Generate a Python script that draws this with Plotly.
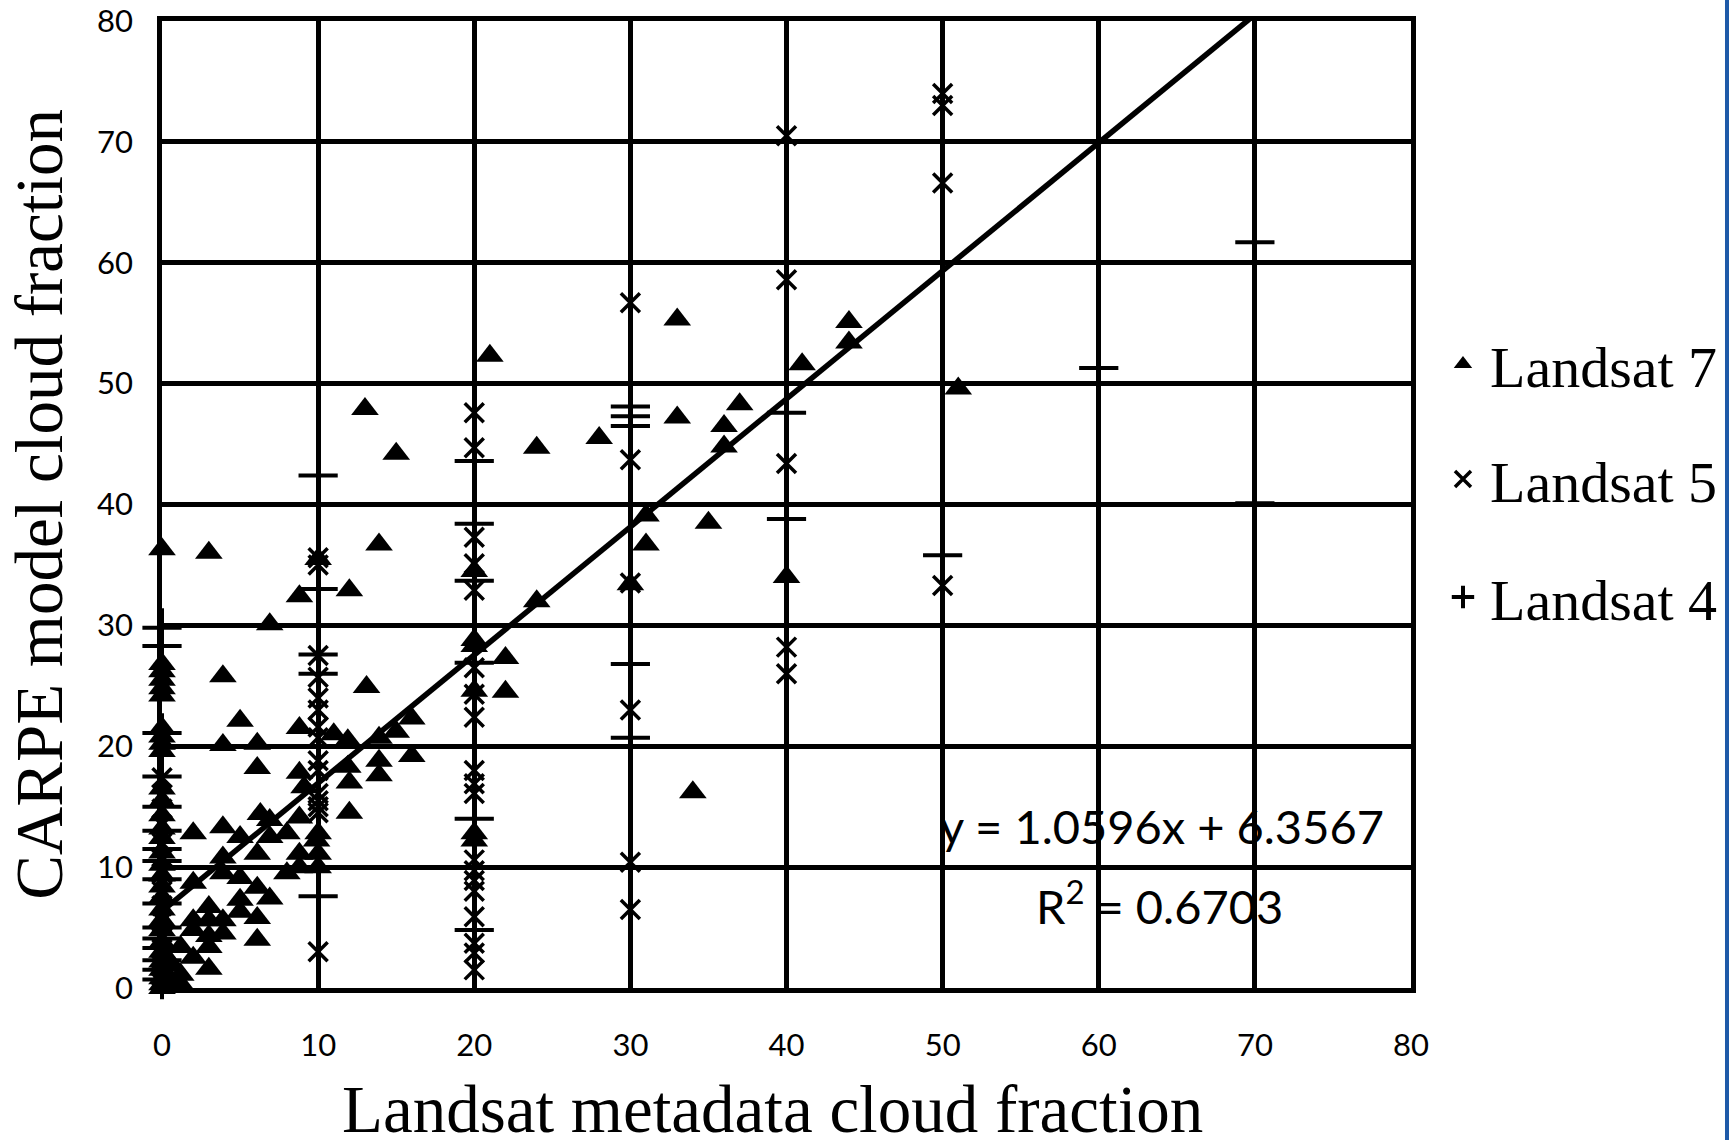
import plotly.graph_objects as go

# ---------------- data ----------------
L7_x = [0, 0, 0, 0, 0, 0, 0, 0, 0, 0, 0, 0, 0, 0, 0, 0, 0, 0, 0, 0, 0, 0, 0, 0, 0, 0, 0, 0, 0, 0,
        1.2, 1.2, 1.2, 0.6, 0.6,
        2.0, 2.0, 2.0, 2.0, 2.0,
        3.0, 3.0, 3.0, 3.0, 3.0, 3.0,
        3.9, 3.9, 3.9, 3.9, 3.9, 3.9, 3.9,
        5.0, 5.0, 5.0, 5.0, 5.0,
        6.1, 6.1, 6.3, 6.1, 6.1, 6.1, 6.1,
        6.9, 6.9, 6.9, 6.9,
        8.0, 8.0,
        8.8, 8.8, 8.8, 9.1, 8.8, 8.8, 8.8,
        10, 10, 10, 10, 9.9,
        11.0, 11.9, 12.0, 11.9, 12.0, 12.0,
        13.0, 13.1, 13.9, 13.9, 13.9, 13.9,
        15.0, 15.0, 16.0, 16.0,
        20, 20, 20, 20, 20, 20,
        21, 22, 22, 24, 24, 28,
        30, 31, 31, 33, 33, 34, 35,
        36, 36, 37, 40, 41, 44, 44, 51]
L7_y = [36.3, 26.8, 26.2, 25.5, 24.8, 24.2, 21.5, 20.8, 20.2, 19.6, 16.5, 15.5, 14.3, 13.2, 12.4,
        11.2, 10.2, 9.3, 8.4, 7.5, 6.5, 5.6, 4.8, 3.8, 3.0, 2.2, 1.5, 0.8, 0.3, 0.0,
        3.4, 1.1, 0.3, 2.0, 0.6,
        12.8, 8.7, 5.6, 4.8, 2.5,
        36.0, 6.7, 5.6, 4.3, 3.4, 1.6,
        25.8, 20.1, 13.3, 10.8, 9.5, 5.6, 4.5,
        22.1, 12.5, 9.1, 7.3, 6.3,
        20.2, 18.2, 14.4, 11.1, 8.3, 5.8, 4.0,
        30.1, 13.9, 12.5, 7.4,
        12.8, 9.5,
        32.4, 21.5, 17.8, 16.6, 14.1, 11.1, 10.0,
        35.5, 12.8, 11.1, 10.0, 12.2,
        21.0, 20.5, 32.9, 18.3, 17.0, 14.5,
        47.9, 24.9, 36.7, 20.7, 18.8, 17.6,
        44.2, 21.2, 22.3, 19.2,
        34.5, 28.8, 28.3, 24.6, 12.8, 12.2,
        52.3, 27.3, 24.5, 44.7, 32.0, 45.5,
        33.4, 39.1, 36.7, 55.3, 47.2, 16.2, 38.5,
        46.5, 44.8, 48.3, 34.0, 51.6, 55.1, 53.4, 49.6]

L5_x = [0, 0, 0, 0, 0, 0, 0, 0, 0, 0, 0, 0, 0, 0, 0,
        10, 10, 10, 10, 10, 10, 10, 10, 10, 10, 10, 10, 10, 10, 10,
        20, 20, 20, 20, 20, 20, 20, 20, 20, 20, 20, 20, 20, 20, 20, 20, 20, 20, 20,
        30, 30, 30, 30, 30, 30,
        40, 40, 40, 40, 40,
        50, 50, 50, 50]
L5_y = [17.4, 16.0, 14.8, 13.5, 12.0, 10.8, 9.5, 8.0, 6.8, 5.5, 4.2, 3.2, 2.0, 1.0, 0.4,
        35.6, 35.0, 27.5, 25.7, 24.0, 23.0, 21.6, 20.7, 18.8, 18.0, 16.1, 15.5, 15.0, 14.5, 3.0,
        47.6, 44.7, 37.3, 35.1, 32.9, 26.5, 24.3, 22.4, 18.0, 16.9, 16.1, 10.6, 9.7, 8.9, 8.0,
        5.9, 3.7, 2.9, 1.5,
        56.7, 43.7, 33.5, 23.0, 10.4, 6.5,
        70.5, 58.6, 43.4, 28.2, 26.0,
        74.0, 73.0, 66.6, 33.3]

L4_x = [0, 0, 0, 0, 0, 0, 0, 0, 0, 0, 0, 0, 0, 0, 0, 0,
        10, 10, 10, 10, 10,
        20, 20, 20, 20, 20, 20,
        30, 30, 30, 30, 30,
        40, 40,
        50,
        60,
        70, 70]
L4_y = [29.8, 28.3, 21.1, 17.5, 15.0, 13.0, 11.5, 10.5, 9.0, 7.0, 5.0, 4.1, 3.3, 2.3, 1.5, 0.7,
        42.4, 33.0, 27.6, 26.0, 7.6,
        43.6, 38.4, 33.7, 26.9, 14.0, 4.8,
        48.1, 47.3, 46.5, 26.8, 20.7,
        47.6, 38.8,
        35.8,
        51.3,
        61.7, 40.1]

trend_slope = 1.0596
trend_intercept = 6.3567
trend_r2 = 0.6703
trend_x = [0, 70]

series_names = ["Landsat 7", "Landsat 5", "Landsat 4"]
x_ticks = [0, 10, 20, 30, 40, 50, 60, 70, 80]
y_ticks = [0, 10, 20, 30, 40, 50, 60, 70, 80]

# ---------------- figure ----------------
SERIF = "Liberation Serif"
SANS = "Lato"

fig = go.Figure()

fig.add_trace(go.Scatter(
    x=L7_x, y=L7_y, mode="markers", name=series_names[0], legend="legend",
    marker=dict(symbol="triangle-up", size=24, color="black", line=dict(width=0)),
    cliponaxis=False,
))
fig.add_trace(go.Scatter(
    x=L5_x, y=L5_y, mode="markers", name=series_names[1], legend="legend2",
    marker=dict(symbol="x-thin", size=19, color="black", line=dict(width=3.5, color="black")),
    cliponaxis=False,
))
fig.add_trace(go.Scatter(
    x=L4_x, y=L4_y, mode="markers", name=series_names[2], legend="legend3",
    marker=dict(symbol="cross-thin", size=28, color="black", line=dict(width=4, color="black")),
    cliponaxis=False,
))
trend_y = [trend_slope * v + trend_intercept for v in trend_x]
fig.add_trace(go.Scatter(
    x=trend_x, y=trend_y, mode="lines", showlegend=False,
    line=dict(color="black", width=5.5), cliponaxis=True, hoverinfo="skip",
))

axis_common = dict(
    range=[0, 80], tickvals=x_ticks, showgrid=True, gridcolor="black", gridwidth=4.5,
    zeroline=False, showline=True, linecolor="black", linewidth=4.5, mirror=True,
    ticks="", tickfont=dict(family=SANS, size=31, color="black"), automargin=False,
    ticklabeloverflow="allow",
)
fig.update_xaxes(**axis_common, ticklabelstandoff=26)
fig.update_yaxes(**{**axis_common, "tickvals": y_ticks}, ticklabelstandoff=18)

legend_common = dict(
    font=dict(family=SERIF, size=58, color="black"), bgcolor="rgba(0,0,0,0)",
    xanchor="left", yanchor="middle", x=1.020, itemwidth=44,
)
fig.update_layout(
    width=1729, height=1140,
    margin=dict(l=162, r=318, t=21, b=152, autoexpand=False),
    paper_bgcolor="white", plot_bgcolor="white",
    legend=dict(**legend_common, y=0.645),
    legend2=dict(**legend_common, y=0.526),
    legend3=dict(**legend_common, y=0.404),
    annotations=[
        dict(text="CARPE model cloud fraction", xref="paper", yref="paper",
             x=-0.099, y=0.5, xanchor="center", yanchor="middle", textangle=-90,
             showarrow=False, font=dict(family=SERIF, size=67, color="black")),
        dict(text="Landsat metadata cloud fraction", xref="paper", yref="paper",
             x=0.489, y=-0.125, xanchor="center", yanchor="middle",
             showarrow=False, font=dict(family=SERIF, size=67, color="black")),
        dict(text=f"y = {trend_slope}x + {trend_intercept}", xref="x", yref="y",
             x=78.4, y=13.4, xanchor="right", yanchor="middle", showarrow=False,
             font=dict(family=SANS, size=47, color="black")),
        dict(text=f"R<sup>2</sup> = {trend_r2}", xref="x", yref="y",
             x=71.9, y=7.0, xanchor="right", yanchor="middle", showarrow=False,
             font=dict(family=SANS, size=47, color="black")),
    ],
    shapes=[
        dict(type="rect", xref="paper", yref="paper", x0=1.2514, x1=1.26, y0=-0.2, y1=1.05,
             fillcolor="#1e5aa8", line=dict(width=0), layer="above"),
    ],
)

fig.write_html("out.html")
